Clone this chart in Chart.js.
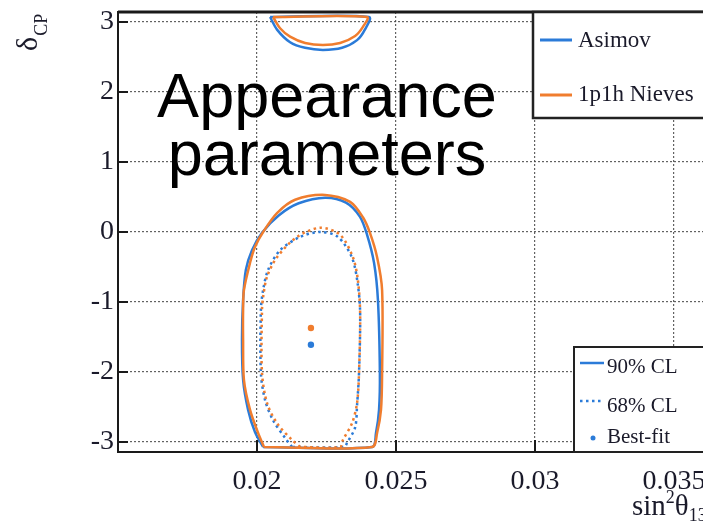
<!DOCTYPE html>
<html>
<head>
<meta charset="utf-8">
<script src="https://cdn.jsdelivr.net/npm/chart.js@4.4.1/dist/chart.umd.min.js"></script>
<style>
  html, body { margin: 0; padding: 0; background: #fff; overflow: hidden; }
  #wrap { position: relative; width: 703px; height: 527px; overflow: hidden; background: #fff; }
  #c { position: absolute; left: 0; top: 0; }
  #note {
    position: absolute; left: 97px; top: 66px; width: 460px;
    text-align: center; color: #000;
    font-family: "Liberation Sans", Arial, sans-serif;
    font-size: 63px; line-height: 58px;
  }
</style>
</head>
<body>
<div id="wrap">
  <canvas id="c" width="880" height="527"></canvas>
  <div id="note">Appearance<br>parameters</div>
</div>
<script>
// Axis ticks
const sin2Ticks = [0.02, 0.025, 0.03, 0.035, 0.04];
const dcpTicks = [-3, -2, -1, 0, 1, 2, 3];

// Legend entries
const sampleNames = ['Asimov', '1p1h Nieves'];
const levelNames = ['90% CL', '68% CL', 'Best-fit'];

// Contours as (sin²θ13, δCP) pairs
const asimov90 = [
  [0.02022, -3.07], [0.01993, -2.86], [0.01968, -2.54], [0.01950, -2.11], [0.01946, -1.54],
  [0.01950, -0.97], [0.01960, -0.54], [0.01982, -0.26], [0.02018, -0.01], [0.02079, 0.24],
  [0.02150, 0.41], [0.02245, 0.49], [0.02320, 0.42], [0.02370, 0.22], [0.02396, -0.04],
  [0.02421, -0.44], [0.02435, -0.97], [0.02442, -2.01], [0.02439, -2.54], [0.02428, -2.87],
  [0.02414, -3.07]
];
const asimov90Top = [
  [0.02047, 3.07], [0.02072, 2.89], [0.02119, 2.71], [0.02173, 2.63], [0.02237, 2.60],
  [0.02306, 2.63], [0.02360, 2.74], [0.02388, 2.89], [0.02403, 3.07]
];
const asimov68 = [
  [0.02126, -3.07], [0.02101, -2.94], [0.02058, -2.69], [0.02029, -2.40], [0.02014, -2.01],
  [0.02014, -1.11], [0.02022, -0.83], [0.02040, -0.54], [0.02083, -0.26], [0.02155, -0.07],
  [0.02227, 0.00], [0.02291, -0.07], [0.02342, -0.37], [0.02363, -0.76], [0.02371, -1.16],
  [0.02367, -2.01], [0.02360, -2.47], [0.02353, -2.79], [0.02324, -3.01], [0.02313, -3.07]
];
const asimovBest = [[0.02194, -1.61]];

const nieves90 = [
  [0.02025, -3.07], [0.02004, -2.87], [0.01975, -2.54], [0.01953, -2.11], [0.01950, -1.54],
  [0.01950, -1.11], [0.01953, -0.83], [0.01975, -0.44], [0.01993, -0.21], [0.02022, 0.00],
  [0.02072, 0.27], [0.02137, 0.46], [0.02245, 0.53], [0.02335, 0.43], [0.02381, 0.21],
  [0.02406, -0.01], [0.02432, -0.36], [0.02450, -0.83], [0.02450, -2.01], [0.02446, -2.54],
  [0.02432, -2.87], [0.02414, -3.07]
];
const nieves90Top = [
  [0.02058, 3.07], [0.02083, 2.91], [0.02119, 2.79], [0.02173, 2.70], [0.02237, 2.67],
  [0.02299, 2.70], [0.02353, 2.80], [0.02381, 2.93], [0.02396, 3.07]
];
const nieves68 = [
  [0.02155, -3.07], [0.02126, -2.97], [0.02072, -2.73], [0.02036, -2.44], [0.02018, -2.01],
  [0.02018, -1.11], [0.02022, -0.93], [0.02036, -0.64], [0.02072, -0.36], [0.02144, -0.07],
  [0.02227, 0.06], [0.02299, -0.04], [0.02345, -0.36], [0.02363, -0.69], [0.02371, -1.16],
  [0.02367, -2.01], [0.02360, -2.44], [0.02342, -2.73], [0.02309, -2.97], [0.02299, -3.07]
];
const nievesBest = [[0.02194, -1.37]];

const blue = '#2b7bd8';
const orange = '#f07d2e';
const ink = '#1a1a2a';
const serif = "'Liberation Serif', 'Times New Roman', serif";

const toPoints = arr => arr.map(([x, y]) => ({ x, y }));
const closed = arr => toPoints(arr.concat([arr[0]]));

function contour(arr, color, dashed, order) {
  return {
    data: closed(arr),
    showLine: true,
    borderColor: color,
    backgroundColor: color,
    borderWidth: 2.5,
    borderDash: dashed ? [2.5, 3.5] : [],
    pointRadius: 0,
    pointHoverRadius: 0,
    fill: false,
    tension: 0.3,
    order
  };
}
function bestFit(arr, color, order) {
  return {
    data: toPoints(arr),
    showLine: false,
    pointStyle: 'circle',
    pointRadius: 3.2,
    borderWidth: 0,
    backgroundColor: color,
    borderColor: color,
    order
  };
}

const datasets = [
  contour(nieves90, orange, false, 0),
  contour(nieves90Top, orange, false, 0),
  contour(nieves68, orange, true, 0),
  bestFit(nievesBest, orange, 0),
  contour(asimov90, blue, false, 1),
  contour(asimov90Top, blue, false, 1),
  contour(asimov68, blue, true, 1),
  bestFit(asimovBest, blue, 1)
];

// Frame, inner tick marks, axis titles and the two legend boxes
const decorations = {
  id: 'decorations',
  afterDatasetsDraw(chart) {
    const { ctx, chartArea: a, scales: { x, y } } = chart;
    ctx.save();
    ctx.strokeStyle = '#1a1a1a';
    ctx.lineWidth = 2;
    ctx.beginPath();
    dcpTicks.forEach(v => {
      const py = y.getPixelForValue(v);
      ctx.moveTo(a.left, py); ctx.lineTo(a.left + 10, py);
    });
    sin2Ticks.forEach(v => {
      const px = x.getPixelForValue(v);
      ctx.moveTo(px, a.bottom); ctx.lineTo(px, a.bottom - 12);
    });
    ctx.stroke();
    ctx.strokeRect(a.left, a.top, a.right - a.left, a.bottom - a.top);
    ctx.lineWidth = 3;
    ctx.beginPath();
    ctx.moveTo(a.left, a.top); ctx.lineTo(a.right, a.top);
    ctx.stroke();
    ctx.restore();
  },
  afterDraw(chart) {
    const { ctx, chartArea: a } = chart;
    ctx.save();

    // sample legend
    const L1 = { x: a.left + 415, y: a.top, w: 400, h: 106 };
    ctx.fillStyle = '#fff';
    ctx.fillRect(L1.x, L1.y, L1.w, L1.h);
    ctx.strokeStyle = '#222';
    ctx.lineWidth = 2.5;
    ctx.strokeRect(L1.x, L1.y, L1.w, L1.h);
    ctx.font = '23px ' + serif;
    ctx.textAlign = 'left';
    ctx.textBaseline = 'alphabetic';
    [[blue, 28, 35], [orange, 83, 89]].forEach(([c, ly, ty], i) => {
      ctx.strokeStyle = c; ctx.lineWidth = 3; ctx.setLineDash([]);
      ctx.beginPath(); ctx.moveTo(L1.x + 7, L1.y + ly); ctx.lineTo(L1.x + 39, L1.y + ly); ctx.stroke();
      ctx.fillStyle = ink;
      ctx.fillText(sampleNames[i], L1.x + 45, L1.y + ty);
    });

    // confidence-level legend
    const L2 = { x: a.left + 456, y: a.bottom - 105, w: 400, h: 105 };
    ctx.fillStyle = '#fff';
    ctx.fillRect(L2.x, L2.y, L2.w, L2.h);
    ctx.strokeStyle = '#222';
    ctx.lineWidth = 2;
    ctx.strokeRect(L2.x, L2.y, L2.w, L2.h);
    ctx.font = '21px ' + serif;
    ctx.strokeStyle = blue; ctx.lineWidth = 2.5;
    ctx.beginPath(); ctx.moveTo(L2.x + 6, L2.y + 16); ctx.lineTo(L2.x + 30, L2.y + 16); ctx.stroke();
    ctx.setLineDash([2.5, 3.5]);
    ctx.beginPath(); ctx.moveTo(L2.x + 6, L2.y + 54); ctx.lineTo(L2.x + 30, L2.y + 54); ctx.stroke();
    ctx.setLineDash([]);
    ctx.fillStyle = blue;
    ctx.beginPath(); ctx.arc(L2.x + 19, L2.y + 91, 2.5, 0, Math.PI * 2); ctx.fill();
    ctx.fillStyle = ink;
    ctx.fillText(levelNames[0], L2.x + 33, L2.y + 26);
    ctx.fillText(levelNames[1], L2.x + 33, L2.y + 65);
    ctx.fillText(levelNames[2], L2.x + 33, L2.y + 96);

    // y title: δ with subscript CP, rotated
    ctx.fillStyle = ink;
    ctx.translate(37, 51);
    ctx.rotate(-Math.PI / 2);
    ctx.font = '30px ' + serif;
    ctx.fillText('δ', 0, 0);
    const dw = ctx.measureText('δ').width;
    ctx.font = '18px ' + serif;
    ctx.fillText('CP', dw + 1, 10);
    ctx.setTransform(1, 0, 0, 1, 0, 0);

    // x title: sin²θ13
    let tx = 632;
    const ty = 515;
    ctx.font = '29px ' + serif;
    ctx.fillText('sin', tx, ty); tx += ctx.measureText('sin').width;
    ctx.font = '18px ' + serif;
    ctx.fillText('2', tx, ty - 12); tx += ctx.measureText('2').width;
    ctx.font = '29px ' + serif;
    ctx.fillText('θ', tx, ty); tx += ctx.measureText('θ').width;
    ctx.font = '18px ' + serif;
    ctx.fillText('13', tx, ty + 6);

    ctx.restore();
  }
};

new Chart(document.getElementById('c'), {
  type: 'scatter',
  data: { datasets },
  options: {
    responsive: false,
    animation: false,
    events: [],
    layout: { padding: { top: 12, right: 67, left: 0, bottom: 0 } },
    plugins: { legend: { display: false }, tooltip: { enabled: false } },
    scales: {
      x: {
        type: 'linear',
        min: 0.015,
        max: 0.04,
        afterBuildTicks: s => { s.ticks = sin2Ticks.map(v => ({ value: v })); },
        afterFit: s => { s.height = 75; s.paddingLeft = 0; s.paddingRight = 0; },
        ticks: {
          font: { family: serif, size: 28 },
          color: ink,
          padding: 13,
          maxRotation: 0,
          autoSkip: false,
          callback: v => String(+Number(v).toFixed(3))
        },
        grid: { color: 'rgba(70,70,70,0.85)', lineWidth: 1.2, drawTicks: false },
        border: { display: false, dash: [2, 2] }
      },
      y: {
        type: 'linear',
        min: -Math.PI,
        max: Math.PI,
        afterBuildTicks: s => { s.ticks = dcpTicks.map(v => ({ value: v })); },
        afterFit: s => { s.width = 118; s.paddingTop = 0; s.paddingBottom = 0; },
        ticks: {
          font: { family: serif, size: 28 },
          color: ink,
          padding: 4,
          autoSkip: false,
          callback: v => String(v)
        },
        grid: { color: 'rgba(70,70,70,0.85)', lineWidth: 1.2, drawTicks: false },
        border: { display: false, dash: [2, 2] }
      }
    }
  },
  plugins: [decorations]
});
</script>
</body>
</html>
